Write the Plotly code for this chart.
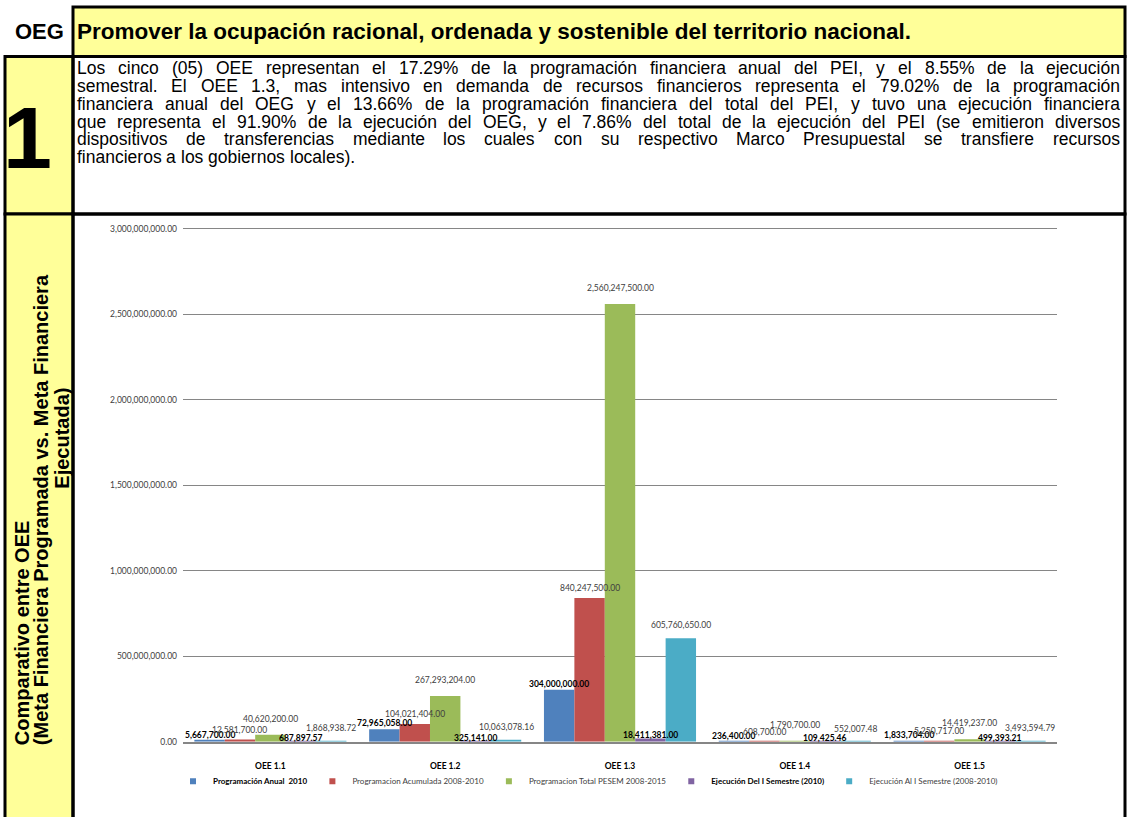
import plotly.graph_objects as go

W, H = 1127, 817

# chart data
categories = ['OEE 1.1', 'OEE 1.2', 'OEE 1.3', 'OEE 1.4', 'OEE 1.5']
prog_anual_2010 = [5667700.00, 72965058.00, 304000000.00, 236400.00, 1833704.00]
prog_acumulada = [12581700.00, 104021404.00, 840247500.00, 608700.00, 5250717.00]
prog_total_pesem = [40620200.00, 267293204.00, 2560247500.00, 1790700.00, 14419237.00]
ejec_del_semestre = [687897.57, 325141.00, 18411381.00, 109425.46, 499393.21]
ejec_al_semestre = [1868938.72, 10063078.16, 605760650.00, 552007.48, 3493594.79]
y_ticks = [0, 500000000, 1000000000, 1500000000, 2000000000, 2500000000, 3000000000]

# name, values, colour, bold label, label lift above bar (px)
series = [
    ('Programación Anual  2010', prog_anual_2010, '#4F81BD', True, 6),
    ('Programacion Acumulada 2008-2010', prog_acumulada, '#C0504D', False, 10),
    ('Programacion Total PESEM 2008-2015', prog_total_pesem, '#9BBB59', False, 16),
    ('Ejecución Del I Semestre (2010)', ejec_del_semestre, '#8064A2', True, 4),
    ('Ejecución Al I Semestre (2008-2010)', ejec_al_semestre, '#4BACC6', False, 13),
]

oeg_text = 'Promover la ocupación racional, ordenada y sostenible del territorio nacional.'
paragraph = [
    'Los cinco (05) OEE representan el 17.29% de la programación financiera anual del PEI, y el 8.55% de la ejecución',
    'semestral. El OEE 1.3, mas intensivo en demanda de recursos financieros representa el 79.02% de la programación',
    'financiera anual del OEG y el 13.66% de la programación financiera del total del PEI, y tuvo una ejecución financiera',
    'que representa el 91.90% de la ejecución del OEG, y el 7.86% del total de la ejecución del PEI (se emitieron diversos',
    'dispositivos de transferencias mediante los cuales con su respectivo Marco Presupuestal se transfiere recursos',
    'financieros a los gobiernos locales).',
]


def px_x(x):
    return x / W


def px_y(y):
    return 1 - y / H


# Arial / Liberation Sans advance widths (per 1000 em), used to justify the paragraph
ARIAL = dict(zip('abcdefghijklmnopqrstuvwxyz',
                 [556, 556, 500, 556, 556, 278, 556, 556, 222, 222, 500, 222, 833,
                  556, 556, 556, 556, 333, 500, 278, 556, 500, 722, 500, 500, 500]))
ARIAL.update(dict(zip('ABCDEFGHIJKLMNOPQRSTUVWXYZ',
                      [667, 667, 722, 722, 667, 611, 778, 722, 278, 500, 667, 556, 833,
                       722, 778, 667, 778, 722, 667, 611, 722, 667, 944, 667, 667, 611])))
ARIAL.update({c: 556 for c in '0123456789áéóúñ'})
ARIAL.update({'í': 278, ' ': 278, '.': 278, ',': 278, '(': 333, ')': 333, '%': 889, '-': 333})


def text_width(s, size):
    return sum(ARIAL.get(c, 556) for c in s) * size / 1000


plot_left, plot_right = 183, 1057
plot_top, plot_bottom = 226, 746
y_max = 3011600000
bargap = 0.13
bar_w = (plot_right - plot_left) / len(categories) * (1 - bargap) / len(series)

fig = go.Figure()

for k, (name, vals, color, bold, lift) in enumerate(series):
    fig.add_trace(go.Bar(
        x=categories, y=vals, name=name,
        marker=dict(color=color, line=dict(width=0)),
        showlegend=False,
    ))
    # small square legend entries
    label = f'<b><span style="color:black">{name}</span></b>' if bold else name
    fig.add_trace(go.Scatter(
        x=[None], y=[None], mode='markers', name=label,
        marker=dict(symbol='square', size=6, color=color),
    ))
    # data labels above each bar
    for cat, v in zip(categories, vals):
        fig.add_annotation(
            x=cat, y=v, xref='x', yref='y', text=f'{v:,.2f}', showarrow=False,
            xanchor='center', yanchor='middle',
            xshift=(k - (len(series) - 1) / 2) * bar_w, yshift=lift,
            borderpad=0, borderwidth=0,
            font=dict(family='Lato', size=8.5,
                      color='black' if bold else '#404040',
                      weight='bold' if bold else 'normal'),
        )

fig.update_layout(
    width=W, height=H, autosize=False,
    margin=dict(l=0, r=0, t=0, b=0),
    paper_bgcolor='white', plot_bgcolor='white',
    barmode='group', bargap=bargap, bargroupgap=0,
    font=dict(family='Lato', color='#404040'),
    xaxis=dict(domain=[px_x(plot_left), px_x(plot_right)], type='category',
               showline=True, linecolor='#868686', linewidth=1.5,
               ticks='', ticklabelstandoff=15,
               tickfont=dict(family='Lato', size=8.5, color='black', weight='bold')),
    yaxis=dict(domain=[px_y(plot_bottom), px_y(plot_top)], range=[0, y_max],
               tickvals=y_ticks, tickformat=',.2f',
               showgrid=True, gridcolor='#868686', gridwidth=1.2,
               zeroline=False, showline=False, ticks='', ticklabelstandoff=5,
               tickfont=dict(family='Lato', size=8.5, color='#404040')),
    legend=dict(orientation='h', x=px_x(588), xanchor='center',
                y=px_y(786), yanchor='middle',
                font=dict(family='Lato', size=8, color='#404040'),
                bgcolor='rgba(0,0,0,0)', itemwidth=30),
)

# table cells (yellow label column, borders)
shapes = [
    dict(x0=73, x1=1125, y0=4, y1=54, fillcolor='#FFFF99'),
    dict(x0=5, x1=73, y0=54, y1=213, fillcolor='#FFFF99'),
    dict(x0=5, x1=73, y0=213, y1=830, fillcolor='#FFFF99'),
    dict(x0=73, x1=1125, y0=54, y1=213, fillcolor='rgba(0,0,0,0)'),
    dict(x0=73, x1=1125, y0=213, y1=830, fillcolor='rgba(0,0,0,0)'),
]
for s in shapes:
    fig.add_shape(type='rect', xref='paper', yref='paper',
                  x0=px_x(s['x0']), x1=px_x(s['x1']),
                  y0=px_y(s['y1']), y1=px_y(s['y0']),
                  fillcolor=s['fillcolor'], line=dict(color='black', width=3),
                  layer='below')

# header row
fig.add_annotation(x=px_x(39), y=px_y(29), xref='paper', yref='paper',
                   text='<b>OEG</b>', showarrow=False, xanchor='center', yanchor='middle',
                   font=dict(family='Liberation Sans', size=22, color='black'))
fig.add_annotation(x=px_x(77), y=px_y(29), xref='paper', yref='paper',
                   text=f'<b>{oeg_text}</b>', showarrow=False, xanchor='left', yanchor='middle',
                   borderpad=0, borderwidth=0,
                   font=dict(family='Liberation Sans', size=22.5, color='black'))

# big number
fig.add_annotation(x=px_x(28), y=px_y(136), xref='paper', yref='paper',
                   text='<b>1</b>', showarrow=False, xanchor='center', yanchor='middle',
                   font=dict(family='Liberation Sans', size=88, color='black'))

# justified paragraph, word by word
fs = 17.5
left, right = 77, 1120
for i, line in enumerate(paragraph):
    words = line.split(' ')
    widths = [text_width(w, fs) for w in words]
    if i < len(paragraph) - 1:
        gap = (right - left - sum(widths)) / (len(words) - 1)
    else:
        gap = text_width(' ', fs)
    x = left
    yc = 66 + 17.9 * i
    for w, wd in zip(words, widths):
        fig.add_annotation(x=px_x(x), y=px_y(yc), xref='paper', yref='paper',
                           text=w, showarrow=False, xanchor='left', yanchor='middle',
                           borderpad=0, borderwidth=0,
                           font=dict(family='Liberation Sans', size=fs, color='black'))
        x += wd + gap

# rotated side label
side = [
    ('Comparativo entre OEE', 22, 750, 'bottom'),
    ('(Meta Financiera Programada vs. Meta Financiera', 41, 750, 'bottom'),
    ('Ejecutada)', 62, 440, 'middle'),
]
for txt, xc, yv, anchor in side:
    fig.add_annotation(x=px_x(xc), y=px_y(yv), xref='paper', yref='paper',
                       text=f'<b>{txt}</b>', showarrow=False, textangle=-90,
                       xanchor='center', yanchor=anchor, borderpad=0, borderwidth=0,
                       font=dict(family='Liberation Sans', size=20, color='black'))

fig.write_html('out.html', config={'displayModeBar': False},
               post_script="document.body.style.margin='0px'; document.body.style.overflow='hidden';")
